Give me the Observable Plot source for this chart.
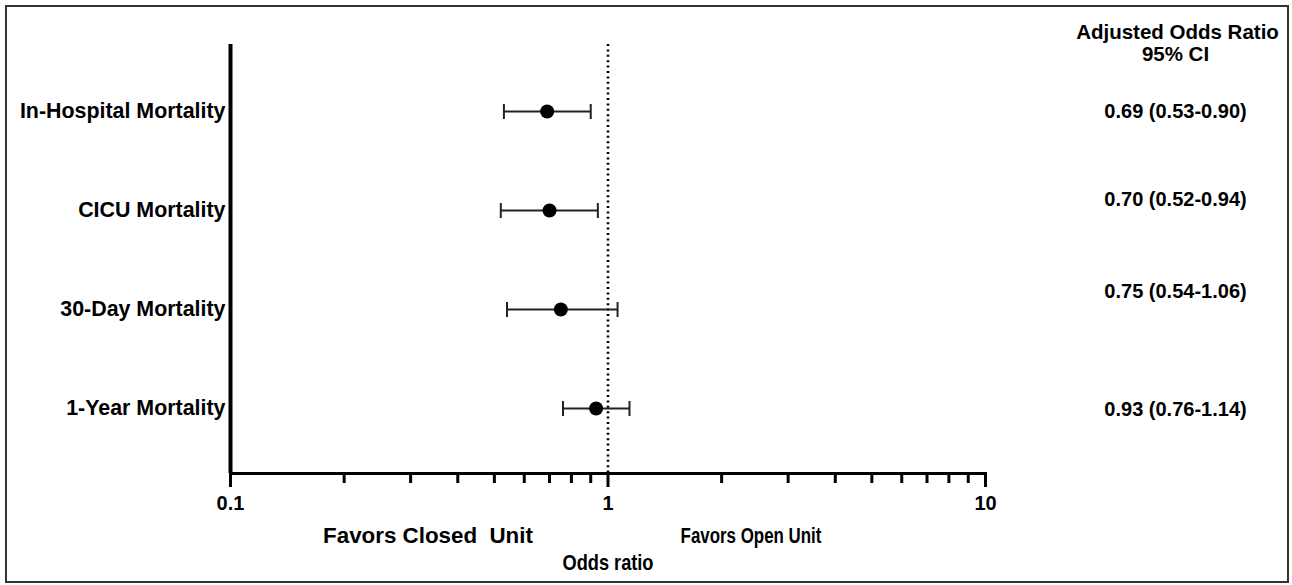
<!DOCTYPE html>
<html>
<head>
<meta charset="utf-8">
<script src="https://cdn.jsdelivr.net/npm/d3@7"></script>
<script src="https://cdn.jsdelivr.net/npm/@observablehq/plot@0.6"></script>
<style>
html, body { margin: 0; padding: 0; background: #fff; }
#wrap { position: relative; width: 1292px; height: 585px; overflow: hidden; }
#border { position: absolute; left: 5px; top: 5px; width: 1280px; height: 574px; border: 2px solid #333; pointer-events: none; }
svg text { white-space: pre; }
</style>
</head>
<body>
<div id="wrap"><div id="chart"></div><div id="border"></div></div>
<script>
const outcomes = ["In-Hospital Mortality", "CICU Mortality", "30-Day Mortality", "1-Year Mortality"];
const oddsRatio = [0.69, 0.70, 0.75, 0.93];
const ciLow = [0.53, 0.52, 0.54, 0.76];
const ciHigh = [0.90, 0.94, 1.06, 1.14];
const ciLabels = ["0.69 (0.53-0.90)", "0.70 (0.52-0.94)", "0.75 (0.54-1.06)", "0.93 (0.76-1.14)"];
const majorTicks = [0.1, 1, 10];
const minorTicks = [0.2, 0.3, 0.4, 0.5, 0.6, 0.7, 0.8, 0.9, 2, 3, 4, 5, 6, 7, 8, 9];
const referenceLine = [1];
const headerLine1 = "Adjusted Odds Ratio";
const headerLine2 = "95% CI";
const xTitle = "Odds ratio";
const leftNote = "Favors Closed  Unit";
const rightNote = "Favors Open Unit";

const rows = outcomes.map((name, i) => ({name, or: oddsRatio[i], lo: ciLow[i], hi: ciHigh[i], label: ciLabels[i]}));

const capSymbol = {
  draw(ctx, size) {
    const h = Math.sqrt(size / Math.PI);
    ctx.moveTo(0, -h);
    ctx.lineTo(0, h);
  }
};

const labelDy = [0, -11, -18, 1];

const chart = Plot.plot({
  width: 1292,
  height: 585,
  marginLeft: 230,
  marginRight: 307,
  marginTop: 44,
  marginBottom: 112,
  style: {fontFamily: "'Liberation Sans', Arial, Helvetica, sans-serif", fontWeight: "bold", fontSize: "20px", color: "#000", background: "#fff"},
  x: {type: "log", domain: [0.1, 10]},
  y: {type: "point", domain: outcomes, padding: 0.66, align: 0.51},
  marks: [
    Plot.ruleX(referenceLine, {stroke: "#000", strokeWidth: 2.6, strokeDasharray: "2,3.4"}),
    Plot.ruleY(rows, {y: "name", x1: "lo", x2: "hi", stroke: "#222", strokeWidth: 1.8}),
    Plot.dot(rows, {y: "name", x: "lo", symbol: capSymbol, r: 7.5, stroke: "#222", strokeWidth: 2}),
    Plot.dot(rows, {y: "name", x: "hi", symbol: capSymbol, r: 7.5, stroke: "#222", strokeWidth: 2}),
    Plot.dot(rows, {y: "name", x: "or", r: 7, fill: "#000", stroke: null}),
    Plot.ruleX([majorTicks[0]], {stroke: "#000", strokeWidth: 4}),
    Plot.frame({anchor: "bottom", stroke: "#000", strokeWidth: 3}),
    Plot.axisX({ticks: majorTicks, tickSize: 14, strokeWidth: 3, stroke: "#000", tickPadding: 8, tickFormat: d => String(d), fontSize: 20, label: null}),
    Plot.axisX({ticks: minorTicks, tickSize: 10, strokeWidth: 3, stroke: "#000", tickFormat: () => "", label: null}),
    Plot.axisY({tickSize: 0, tickPadding: 5, fontSize: 21.4, label: null}),
    ...rows.map((r, i) => Plot.text([r], {y: "name", text: "label", frameAnchor: "right", dx: 190, dy: labelDy[i], textAnchor: "middle", fontSize: 20})),
    Plot.text([headerLine1], {frameAnchor: "top-right", dx: 192, dy: -12, lineAnchor: "middle", textAnchor: "middle", fontSize: 20.5}),
    Plot.text([headerLine2], {frameAnchor: "top-right", dx: 190, dy: 10, lineAnchor: "middle", textAnchor: "middle", fontSize: 20.5}),
    Plot.text([leftNote], {frameAnchor: "bottom", dx: -180, dy: 63, lineAnchor: "middle", textAnchor: "middle", fontSize: 21.5}),
    Plot.text([rightNote], {frameAnchor: "bottom", dx: 143, dy: 63, lineAnchor: "middle", textAnchor: "middle", fontSize: 21.5}),
    Plot.text([xTitle], {frameAnchor: "bottom", dx: 0, dy: 90, lineAnchor: "middle", textAnchor: "middle", fontSize: 21.5})
  ]
});

document.getElementById("chart").appendChild(chart);

// condense a few labels horizontally to match the reference's narrow lettering
const targetWidth = {[rightNote]: 141, [xTitle]: 91, [leftNote]: 210};
chart.querySelectorAll("text").forEach(t => {
  const key = t.textContent;
  if (targetWidth[key]) {
    const b = t.getBBox();
    const cx = b.x + b.width / 2;
    const s = targetWidth[key] / b.width;
    const existing = t.getAttribute("transform") || "";
    t.setAttribute("transform", `${existing} translate(${cx},0) scale(${s},1) translate(${-cx},0)`);
  }
});
</script>
</body>
</html>
